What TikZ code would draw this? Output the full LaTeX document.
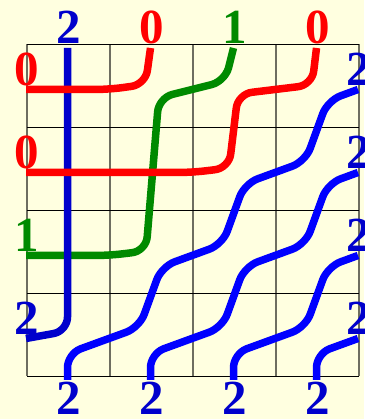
\documentclass[tikz,border=0pt]{standalone}
\usepackage{fontspec}
\setmainfont{Liberation Serif}
\definecolor{bg}{RGB}{255,255,224}
\definecolor{sred}{RGB}{255,0,0}
\definecolor{sgreen}{RGB}{0,138,0}
\definecolor{sblue}{RGB}{0,0,255}
\definecolor{dblue}{RGB}{0,0,204}
\definecolor{gridv}{RGB}{110,110,96}
\begin{document}
\begin{tikzpicture}[x=83pt,y=83pt,
  strand/.style={line width=7.5pt, rounded corners=14pt, line join=round},
  lab/.style={font=\fontsize{49}{49}\selectfont\bfseries, inner sep=0pt, anchor=base},
  gridh/.style={black, line width=0.9pt},
  gridvl/.style={gridv, line width=1.1pt}]
\clip (-27pt,-43pt) rectangle (337pt,376pt);
\fill[bg] (-27pt,-43pt) rectangle (337pt,376pt);
% grid
\foreach \i in {0,...,4} \draw[gridvl] (\i,0) -- (\i,4);
\foreach \j in {0,...,4} \draw[gridh] (0,\j) -- (4,\j);
% strands
\begin{scope}[xshift=-1pt,yshift=-4pt]
\draw[strand,sblue] (0.5,0) -- (0.5,0.318) -- (1.367,0.634) -- (1.633,1.366) -- (2.367,1.634) -- (2.633,2.366) -- (3.367,2.634) -- (3.633,3.366) -- (4,3.5);
\draw[strand,sblue] (1.5,0) -- (1.5,0.318) -- (2.367,0.634) -- (2.633,1.366) -- (3.367,1.634) -- (3.633,2.366) -- (4,2.5);
\draw[strand,sblue] (2.5,0) -- (2.5,0.318) -- (3.367,0.634) -- (3.633,1.366) -- (4,1.5);
\draw[strand,sblue] (3.5,0) -- (3.5,0.318) -- (4,0.5);
\draw[strand,sgreen] (0,1.5) -- (1,1.5) -- (1.446,1.554) -- (1.6,3.4) -- (2.4,3.6) -- (2.5,4);
\draw[strand,dblue] (0.5,4) -- (0.5,0.59) -- (0,0.5);
\draw[strand,sred] (0,2.5) -- (2,2.5) -- (2.446,2.554) -- (2.554,3.446) -- (3.446,3.554) -- (3.5,4);
\draw[strand,sred] (0,3.5) -- (1,3.5) -- (1.439,3.561) -- (1.5,4);
\end{scope}
% labels
\node[lab,dblue] (t1) at (0.5,4) {2};
\node[lab,sred] (t2) at (1.5,4) {0};
\node[lab,sgreen] (t3) at (2.5,4) {1};
\node[lab,sred] (t4) at (3.5,4) {0};
\node[lab,sred] (l1) at (0,3.5) {0};
\node[lab,sred] (l2) at (0,2.5) {0};
\node[lab,sgreen] (l3) at (0,1.5) {1};
\node[lab,dblue] (l4) at (0,0.5) {2};
\foreach \r in {0.5,1.5,2.5,3.5} \node[lab,dblue] at (4,\r) {2};
\foreach \c in {0.5,1.5,2.5,3.5} \node[lab,dblue,yshift=-38.5pt] at (\c,0) {2};
\end{tikzpicture}
\end{document}
